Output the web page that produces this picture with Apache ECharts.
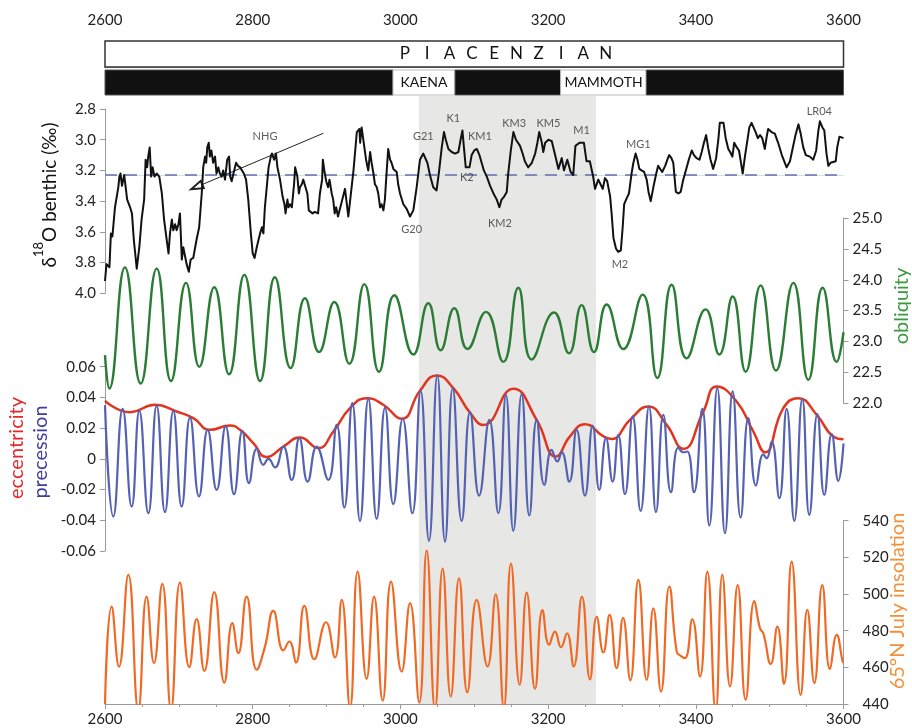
<!DOCTYPE html>
<html><head><meta charset="utf-8">
<script src="https://cdn.jsdelivr.net/npm/echarts@6/dist/echarts.min.js"></script>
<style>html,body{margin:0;padding:0;background:#fff}#c{width:912px;height:728px}</style>
</head><body><div id="c"></div>
<script>
// ---------------- data ----------------
const AGE_MIN = 2600, AGE_MAX = 3600;
const ageTicks = 200;
const stage = [[2600, 3600, 'PIACENZIAN']];
const STAGE_LABEL_AGE = 3142;
const chrons = [[2600, 2990, 'N', ''], [2990, 3074, 'R', 'KAENA'], [3074, 3217, 'N', ''], [3217, 3333, 'R', 'MAMMOTH'], [3333, 3600, 'N', '']];
const shading = [[3025, 3265]];
const d18oRef = 3.235;
const d18o = [[2600,3.92],[2602,3.81],[2606,3.83],[2608,3.61],[2610,3.63],[2613.5,3.44],[2616,3.44],[2618,3.31],[2619.5,3.24],[2621,3.22],[2623,3.30],[2626,3.23],[2628.5,3.22],[2630,3.39],[2634,3.44],[2636.5,3.48],[2639,3.65],[2643,3.84],[2646.5,3.70],[2649.5,3.52],[2653,3.39],[2655,3.13],[2657,3.18],[2658.5,3.11],[2660.5,3.05],[2662.5,3.24],[2664.5,3.18],[2667,3.24],[2670,3.22],[2673.5,3.24],[2677,3.35],[2680,3.52],[2683.5,3.65],[2686,3.74],[2688,3.61],[2690.5,3.52],[2692.5,3.59],[2695,3.55],[2697,3.59],[2699.5,3.55],[2701.5,3.48],[2704,3.78],[2706,3.70],[2708.5,3.76],[2710.5,3.81],[2713.5,3.86],[2716,3.78],[2719.5,3.77],[2724,3.65],[2727.5,3.57],[2731,3.35],[2733,3.18],[2735.5,3.11],[2737,3.15],[2738.5,3.05],[2740.5,3.02],[2742,3.11],[2744,3.07],[2746.5,3.15],[2749,3.11],[2751,3.22],[2753.5,3.18],[2755.5,3.22],[2758,3.24],[2760,3.20],[2762.5,3.26],[2765.5,3.13],[2768,3.11],[2769.5,3.24],[2771.5,3.27],[2774,3.22],[2777.5,3.15],[2780,3.17],[2783,3.18],[2785.5,3.20],[2788,3.22],[2791,3.26],[2794,3.39],[2797.5,3.61],[2800,3.74],[2802.5,3.77],[2805.5,3.70],[2808,3.65],[2810,3.61],[2812.5,3.57],[2814.5,3.61],[2816.5,3.44],[2819,3.31],[2821.5,3.18],[2824.5,3.11],[2826,3.09],[2829,3.13],[2831.5,3.09],[2833.5,3.18],[2837,3.26],[2840.5,3.37],[2843,3.42],[2844.5,3.48],[2847,3.39],[2848.5,3.44],[2850.5,3.42],[2853,3.44],[2856,3.29],[2857.5,3.18],[2860.5,3.24],[2862.5,3.35],[2864,3.31],[2866.5,3.29],[2868.5,3.26],[2871.5,3.31],[2874,3.35],[2876,3.46],[2878.5,3.46],[2881,3.48],[2884,3.47],[2885.5,3.48],[2888.5,3.48],[2891,3.35],[2894,3.26],[2895,3.13],[2897,3.20],[2899.5,3.27],[2902,3.31],[2904,3.26],[2907,3.35],[2909,3.39],[2911,3.48],[2913,3.44],[2915.5,3.50],[2918,3.50],[2925,3.32],[2929.5,3.50],[2936.5,3.20],[2941,2.95],[2944.5,2.93],[2945.5,3.02],[2947.5,2.92],[2950,2.91],[2953.5,3.13],[2956.5,3.20],[2959,3.08],[2961,3.15],[2963.5,3.22],[2965.5,3.29],[2968,3.31],[2970,3.35],[2972.5,3.44],[2974.5,3.42],[2977,3.46],[2979,3.39],[2981.5,3.20],[2983.5,3.06],[2986,3.13],[2988,3.15],[2990.5,3.19],[2995,3.21],[2997,3.29],[2999.5,3.35],[3004,3.42],[3008.5,3.45],[3013,3.50],[3017.5,3.46],[3022,3.31],[3026.5,3.13],[3031,3.09],[3033.5,3.08],[3036.5,3.15],[3040,3.23],[3044.5,3.31],[3049,3.33],[3052.5,3.20],[3056,3.05],[3059,2.95],[3061.5,3.00],[3065,3.06],[3069.5,3.08],[3074,3.09],[3078.5,3.08],[3081.5,3.00],[3084,2.94],[3086,3.05],[3088.5,3.18],[3093.5,3.18],[3096.5,3.10],[3100,3.07],[3103.5,3.06],[3107,3.10],[3110,3.15],[3113,3.20],[3117,3.24],[3121.5,3.30],[3126,3.35],[3130.5,3.39],[3134,3.44],[3137,3.39],[3140.5,3.37],[3144,3.34],[3146,3.22],[3149.5,3.07],[3153,2.95],[3156.5,3.00],[3162,3.04],[3165.5,3.09],[3168.5,3.14],[3173,3.18],[3178,3.15],[3182.5,3.09],[3185.5,3.02],[3188,2.95],[3191.5,3.02],[3193.5,3.08],[3196,3.02],[3200.5,3.00],[3205,3.01],[3209.5,3.10],[3214,3.19],[3218.5,3.12],[3221.5,3.20],[3226,3.13],[3230.5,3.21],[3234,3.23],[3237,3.04],[3242.5,3.02],[3248.5,3.02],[3252,3.14],[3256.5,3.14],[3261,3.24],[3263.5,3.32],[3268,3.26],[3271,3.29],[3274,3.32],[3277,3.25],[3280,3.27],[3284,3.37],[3286,3.48],[3288.5,3.64],[3292,3.71],[3295,3.73],[3298.5,3.72],[3301,3.57],[3303,3.42],[3306.5,3.38],[3309.5,3.35],[3313,3.22],[3315.5,3.15],[3318.5,3.09],[3321,3.13],[3323.5,3.19],[3326.5,3.20],[3330,3.21],[3333.5,3.26],[3336,3.34],[3339,3.40],[3342.5,3.31],[3346,3.23],[3349,3.17],[3351.5,3.18],[3354.5,3.21],[3358.5,3.17],[3361.5,3.13],[3364,3.10],[3367,3.12],[3369.5,3.15],[3373,3.34],[3376.5,3.35],[3379.5,3.34],[3383,3.26],[3386.5,3.20],[3390.5,3.13],[3394.5,3.07],[3397.5,3.10],[3401,3.12],[3405,3.13],[3408,3.08],[3411,3.02],[3414,2.97],[3417,3.06],[3420,3.13],[3423.5,3.19],[3427.5,3.12],[3430.5,3.00],[3432.5,2.89],[3437.5,2.89],[3440.5,2.99],[3444,3.06],[3446.5,3.08],[3449.5,3.11],[3452,3.02],[3455.5,3.05],[3458.5,3.07],[3460.5,3.13],[3463.5,3.22],[3466.5,3.11],[3470,3.00],[3472.5,2.92],[3475.5,2.89],[3478,2.88],[3481,2.95],[3484,2.99],[3487,2.97],[3490,2.99],[3493.5,3.06],[3496,2.98],[3498,2.93],[3502.5,2.95],[3507,2.96],[3511.5,3.02],[3516.5,3.10],[3523,3.18],[3527.5,3.14],[3531,3.06],[3535,2.97],[3539,2.90],[3542,2.96],[3545.5,3.05],[3549,3.10],[3554.5,3.11],[3559,3.13],[3563,3.07],[3566,2.94],[3568,2.88],[3571.5,2.92],[3574,2.94],[3577,3.09],[3579.5,3.17],[3582.5,3.15],[3589.5,3.14],[3591.5,3.05],[3594.5,2.98],[3600,2.99]];
const obliquity = [[2600,22.78],[2605.8,22.24],[2627,24.20],[2648.3,22.32],[2670,24.18],[2689.4,22.36],[2709.7,23.95],[2727.7,22.59],[2748,23.88],[2768,22.47],[2788.7,24.08],[2810,22.36],[2830,24.04],[2851.4,22.57],[2870.8,23.70],[2889.8,22.83],[2910.5,23.64],[2930.8,22.64],[2951.2,23.93],[2971,22.51],[2991.8,23.75],[3017.5,22.79],[3037.8,23.62],[3054.5,22.86],[3073,23.54],[3090.7,22.88],[3115.9,23.48],[3139.3,22.67],[3159.7,23.87],[3177.7,22.71],[3208,23.47],[3228.3,22.81],[3245.4,23.59],[3262.1,22.83],[3279.3,23.60],[3301.8,22.88],[3328,23.76],[3347.9,22.41],[3367.3,23.92],[3387.6,22.73],[3413.3,23.52],[3431.8,22.79],[3449.9,23.73],[3467.5,22.51],[3487.8,23.91],[3508.6,22.53],[3532.1,23.95],[3552.4,22.38],[3571.8,23.87],[3590.7,22.67],[3600,23.15]];
const eccentricity = [[2600,0.0378],[2633.8,0.0304],[2667.7,0.0352],[2697,0.0308],[2719.6,0.0265],[2742.2,0.0189],[2769.2,0.0217],[2782.8,0.0189],[2800.8,0.0102],[2818.9,0.0012],[2841.5,0.0080],[2864,0.0139],[2888.9,0.0070],[2909.2,0.0178],[2931.8,0.0330],[2954.3,0.0395],[2976.9,0.0352],[3001.7,0.0261],[3026.5,0.0443],[3049.1,0.0543],[3071.7,0.0460],[3094.3,0.0300],[3112.3,0.0221],[3152.9,0.0456],[3184.5,0.0254],[3210.7,0.0015],[3229.6,0.0146],[3249.9,0.0226],[3274.8,0.0146],[3286.1,0.0130],[3310.9,0.0254],[3335.7,0.0341],[3360.5,0.0221],[3383.1,0.0065],[3410.2,0.0308],[3428.2,0.0471],[3455.3,0.0373],[3477.9,0.0178],[3493.7,0.0043],[3518.5,0.0330],[3538.8,0.0395],[3563.7,0.0287],[3586.2,0.0146],[3600,0.0128]];
const precession = [[2600,0.0350],[2611.3,-0.0376],[2623.9,0.0326],[2636.1,-0.0310],[2646.5,0.0313],[2658.7,-0.0354],[2669.9,0.0347],[2681.2,-0.0347],[2692.5,0.0313],[2703.8,-0.0310],[2715.1,0.0269],[2727.3,-0.0245],[2739,0.0189],[2751.2,-0.0202],[2763.4,0.0211],[2774.7,-0.0230],[2785.9,0.0182],[2795,-0.0158],[2805.4,0.0065],[2814.4,-0.0039],[2821.2,0.0000],[2830.2,-0.0056],[2841.5,0.0080],[2852.8,-0.0137],[2863.1,0.0135],[2874.4,-0.0148],[2886.6,0.0080],[2902.4,-0.0137],[2913.7,0.0222],[2924.1,-0.0317],[2934.9,0.0363],[2945.3,-0.0404],[2956.6,0.0391],[2967.9,-0.0391],[2979.2,0.0334],[2990.4,-0.0295],[3003.1,0.0261],[3016.2,-0.0354],[3027.4,0.0443],[3038.7,-0.0534],[3050,0.0543],[3060.4,-0.0539],[3070.8,0.0460],[3083,-0.0404],[3094.3,0.0304],[3106.6,-0.0239],[3120.4,0.0254],[3132.6,-0.0354],[3142.9,0.0417],[3152.9,-0.0469],[3164.2,0.0421],[3174.6,-0.0369],[3184.5,0.0254],[3194.9,-0.0169],[3204.8,0.0059],[3212.5,-0.0017],[3218.3,0.0044],[3228.7,-0.0148],[3238.6,0.0189],[3249.9,-0.0239],[3260.3,0.0217],[3269.3,-0.0202],[3278.4,0.0135],[3287.4,-0.0148],[3295.1,0.0156],[3304.1,-0.0230],[3314.5,0.0276],[3325.3,-0.0339],[3336.6,0.0341],[3346.1,-0.0347],[3356,0.0287],[3366.4,-0.0217],[3376.3,0.0074],[3383.1,0.0043],[3388.5,0.0048],[3397.5,-0.0217],[3408.8,0.0326],[3418.3,-0.0434],[3429.1,0.0460],[3439.5,-0.0484],[3449.9,0.0439],[3460.7,-0.0382],[3471.1,0.0265],[3481.5,-0.0174],[3491.4,0.0030],[3495.9,0.0004],[3502.7,0.0113],[3513.1,-0.0256],[3523,0.0326],[3533.4,-0.0404],[3544.2,0.0391],[3553.7,-0.0365],[3564.6,0.0291],[3574,-0.0235],[3584,0.0161],[3593,-0.0143],[3600,0.0100]];
const insolation = [[2600,440],[2609,493.1],[2618.9,460.4],[2631.6,510.4],[2645.1,437],[2656.4,498.6],[2666.3,462.3],[2677.6,505.5],[2689.4,437],[2701.5,506.2],[2714.2,460.1],[2724.1,486.3],[2734.5,458.1],[2748,501.0],[2761.6,451.7],[2772.4,484.1],[2780.5,467.7],[2791.8,498.6],[2805.4,458.7],[2816.6,471.3],[2827.9,490.8],[2841.5,469.2],[2849.6,474.1],[2858.6,462.6],[2869.9,493.5],[2883.4,464.4],[2899.3,484.6],[2911.4,465.4],[2920.5,496.8],[2931.8,438],[2942.1,512.2],[2954.3,453.7],[2964.3,498.6],[2976,441.9],[2987.3,506.8],[3001.7,457.7],[3013,495.0],[3025.6,440.8],[3035.6,523.7],[3046.9,437],[3057.2,513.8],[3068.1,444.1],[3079.4,508.6],[3090.6,446.3],[3103.3,496.8],[3118,460.5],[3129,499.8],[3140,438],[3149.7,516.6],[3161.5,450.5],[3171,500.8],[3182.3,448.4],[3192.4,491.2],[3201.4,472.3],[3209.3,479.5],[3217.5,471.0],[3225.5,478.6],[3234.6,460.5],[3245.8,498.6],[3256.7,453.4],[3265.8,487.5],[3274.8,468.1],[3283.3,488.6],[3292.8,459.5],[3301.5,487.0],[3311.3,452.9],[3322.2,507.7],[3333.5,453.2],[3342.5,492.2],[3352.9,446.8],[3364.2,504.1],[3374.1,468.6],[3379.5,466.3],[3385.4,465.0],[3395.3,486.2],[3405.7,455.0],[3415.6,512.2],[3426.9,436],[3435.9,510.4],[3446.3,449.6],[3456.7,504.9],[3467.5,442.3],[3479.3,496.2],[3486.9,481.3],[3491.4,478.6],[3501.4,461.9],[3510.4,482.2],[3519.4,451.0],[3529.8,517.7],[3542,445.0],[3551,491.3],[3560.5,451.4],[3571.3,504.9],[3581.7,459.0],[3590.8,477.7],[3598.9,463.2],[3600,462.5]];
const events = [['NHG',2816.7,2.98],['G21',3031,2.98],['K1',3071.6,2.86],['KM1',3107.8,2.98],['K2',3089.8,3.245],['G20',3015.3,3.583],['KM2',3134.9,3.546],['KM3',3154.2,2.893],['KM5',3200.3,2.893],['M1',3245.4,2.937],['MG1',3322.2,3.03],['M2',3297.3,3.813],['LR04',3567.2,2.813]];
const nhgArrow = [[2895.6, 2.958], [2724.2, 3.307]];

// ---------------- chart ----------------
const FONT = 'Lato, "Liberation Sans", sans-serif';
const AX = '#9a9a9a', TXT = '#222';
const L = 105, R = 68.5;
const grids = [
  {left: L, right: R, top: 41, height: 26},
  {left: L, right: R, top: 70, height: 25},
  {left: L, right: R, top: 96, height: 608},
  {left: L, right: R, top: 109, height: 184.3},
  {left: L, right: R, top: 218, height: 185.3},
  {left: L, right: R, top: 366.7, height: 184.3},
  {left: L, right: R, top: 520.7, height: 183.3}
];
const xAxes = grids.map((g, i) => ({
  type: 'value', gridIndex: i, min: AGE_MIN, max: AGE_MAX, show: i === 0 || i === 2,
  position: i === 0 ? 'top' : 'bottom', offset: i === 0 ? 5 : 0, interval: ageTicks,
  axisLine: {show: true, lineStyle: {color: AX, width: 1}},
  axisTick: {show: true, length: 5, lineStyle: {color: AX}},
  minorTick: {show: true, splitNumber: 4, length: 3, lineStyle: {color: AX}},
  axisLabel: {fontSize: 15, color: TXT, fontFamily: FONT, margin: 8, formatter: v => String(Math.round(v))},
  splitLine: {show: false}
}));
function yStyle(o) {
  return Object.assign({
    type: 'value', splitLine: {show: false},
    axisLine: {show: true, lineStyle: {color: AX, width: 1}},
    axisTick: {show: true, length: 5, lineStyle: {color: AX}},
    axisLabel: {fontSize: 15, color: TXT, fontFamily: FONT, margin: 9}
  }, o);
}
const yAxes = [
  {type: 'value', gridIndex: 0, min: 0, max: 1, show: false},
  {type: 'value', gridIndex: 1, min: 0, max: 1, show: false},
  {type: 'value', gridIndex: 2, min: 0, max: 1, show: false},
  yStyle({gridIndex: 3, min: 2.8, max: 4.0, interval: 0.2, inverse: true, position: 'left',
    axisLabel: {fontSize: 15, color: TXT, fontFamily: FONT, margin: 9, formatter: v => v.toFixed(1)}}),
  yStyle({gridIndex: 4, min: 22, max: 25, interval: 0.5, position: 'right',
    axisLabel: {fontSize: 15, color: TXT, fontFamily: FONT, margin: 9, formatter: v => v.toFixed(1)}}),
  yStyle({gridIndex: 5, min: -0.06, max: 0.06, interval: 0.02, position: 'left',
    axisLabel: {fontSize: 15, color: TXT, fontFamily: FONT, margin: 9, formatter: v => Math.abs(v) < 1e-9 ? '0' : v.toFixed(2)}}),
  yStyle({gridIndex: 6, min: 440, max: 540, interval: 20, position: 'right',
    axisLabel: {fontSize: 15, color: TXT, fontFamily: FONT, margin: 19}})
];

const series = [
  { // stage bar
    type: 'custom', xAxisIndex: 0, yAxisIndex: 0, silent: true, z: 3,
    data: stage,
    renderItem: function (params, api) {
      const a = api.coord([api.value(0), 1]);
      const b = api.coord([api.value(1), 0]);
      const name = stage[params.dataIndex][2];
      const c = api.coord([STAGE_LABEL_AGE, 0.5]);
      const kids = [{type: 'rect', shape: {x: a[0], y: a[1], width: b[0] - a[0], height: b[1] - a[1]},
        style: {fill: '#fff', stroke: '#333', lineWidth: 1.5}}];
      const n = name.length, sp = 22.3;
      for (let i = 0; i < n; i++) {
        kids.push({type: 'text', x: c[0] + (i - (n - 1) / 2) * sp, y: c[1],
          style: {text: name[i], font: '17px ' + FONT, fill: '#111', align: 'center', verticalAlign: 'middle'}});
      }
      return {type: 'group', children: kids};
    }
  },
  { // magnetic polarity
    type: 'custom', xAxisIndex: 1, yAxisIndex: 1, silent: true, z: 3,
    data: chrons,
    renderItem: function (params, api) {
      const d = chrons[params.dataIndex];
      const a = api.coord([d[0], 1]);
      const b = api.coord([d[1], 0]);
      const normal = d[2] === 'N';
      const kids = [{type: 'rect', shape: {x: a[0], y: a[1], width: b[0] - a[0], height: b[1] - a[1]},
        style: {fill: normal ? '#111' : '#fff', stroke: normal ? '#555' : '#bbb', lineWidth: 1}}];
      if (d[3]) kids.push({type: 'text', x: (a[0] + b[0]) / 2, y: (a[1] + b[1]) / 2,
        style: {text: d[3], font: '14px ' + FONT, fill: '#111', align: 'center', verticalAlign: 'middle'}});
      return {type: 'group', children: kids};
    }
  },
  { // grey shading
    type: 'custom', xAxisIndex: 2, yAxisIndex: 2, silent: true, z: 0,
    data: shading,
    renderItem: function (params, api) {
      const cs = params.coordSys;
      const a = api.coord([api.value(0), 0]);
      const b = api.coord([api.value(1), 0]);
      return {type: 'rect', shape: {x: a[0], y: cs.y, width: b[0] - a[0], height: cs.height}, style: {fill: '#e7e7e6'}};
    }
  },
  {
    name: 'd18O', type: 'line', xAxisIndex: 3, yAxisIndex: 3, data: d18o, showSymbol: false, symbol: 'none',
    lineStyle: {color: '#111', width: 2, join: 'round'}, z: 5,
    markLine: {
      silent: true, symbol: 'none', animation: false, label: {show: false},
      data: [
        {yAxis: d18oRef, lineStyle: {color: '#cfe7cf', width: 1, type: 'solid'}},
        {yAxis: d18oRef, lineStyle: {color: '#6a6ab4', width: 1.5, type: [12, 8]}},
        [{coord: nhgArrow[0], symbol: 'none', lineStyle: {color: '#222', width: 1, type: 'solid'}},
         {coord: nhgArrow[1], symbol: 'emptyTriangle', symbolSize: [8, 12], lineStyle: {color: '#222', width: 1, type: 'solid'}}]
      ]
    }
  },
  {
    name: 'events', type: 'scatter', xAxisIndex: 3, yAxisIndex: 3, symbolSize: 0.1, z: 6,
    itemStyle: {color: 'transparent'},
    data: events.map(e => ({name: e[0], value: [e[1], e[2]]})),
    label: {show: true, position: 'inside', formatter: '{b}', fontSize: 11, color: '#333', fontFamily: FONT}
  },
  {
    name: 'obliquity', type: 'line', xAxisIndex: 4, yAxisIndex: 4, data: obliquity, symbol: 'none', smooth: 0.5,
    lineStyle: {color: '#2b7d35', width: 2.4}, z: 4
  },
  {
    name: 'eccentricity', type: 'line', xAxisIndex: 5, yAxisIndex: 5, data: eccentricity, symbol: 'none', smooth: 0.5,
    lineStyle: {color: '#e03520', width: 2.5}, z: 4
  },
  {
    name: 'precession', type: 'line', xAxisIndex: 5, yAxisIndex: 5, data: precession, symbol: 'none', smooth: 0.5,
    lineStyle: {color: '#5562b2', width: 2.2}, z: 5
  },
  {
    name: 'insolation', type: 'line', xAxisIndex: 6, yAxisIndex: 6, data: insolation, symbol: 'none', smooth: 0.5,
    lineStyle: {color: '#f06a26', width: 2.2}, z: 4
  }
];

const chart = echarts.init(document.getElementById('c'), null, {renderer: 'canvas'});
chart.setOption({
  animation: false,
  backgroundColor: '#fff',
  grid: grids, xAxis: xAxes, yAxis: yAxes, series: series,
  graphic: [
    {type: 'text', x: 50, y: 195, rotation: Math.PI / 2, z: 10,
      style: {text: '{d|δ}{s|18}{d|O benthic (‰)}', align: 'center', verticalAlign: 'middle',
        rich: {d: {font: '19px ' + FONT, fill: '#111', lineHeight: 36}, s: {font: '13px ' + FONT, fill: '#111', lineHeight: 16, verticalAlign: 'top'}}}},
    {type: 'text', x: 17, y: 448, rotation: Math.PI / 2, z: 10,
      style: {text: 'eccentricity', font: '20px ' + FONT, fill: '#e8262a', align: 'center', verticalAlign: 'middle'}},
    {type: 'text', x: 41, y: 452, rotation: Math.PI / 2, z: 10,
      style: {text: 'precession', font: '20px ' + FONT, fill: '#3e3e9c', align: 'center', verticalAlign: 'middle'}},
    {type: 'text', x: 902, y: 306, rotation: Math.PI / 2, z: 10,
      style: {text: 'obliquity', font: '20px ' + FONT, fill: '#3a9a3e', align: 'center', verticalAlign: 'middle'}},
    {type: 'text', x: 898, y: 601, rotation: Math.PI / 2, z: 10,
      style: {text: '65°N July insolation', font: '20px ' + FONT, fill: '#f3903a', align: 'center', verticalAlign: 'middle'}}
  ]
});
</script></body></html>
